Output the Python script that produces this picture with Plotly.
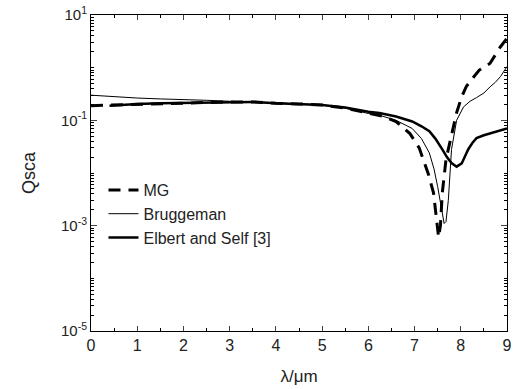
import numpy as np
import plotly.graph_objects as go

# wavelength (um) and read values of Qsca
x_mg = [0.0, 0.5, 1.0, 1.5, 2.0, 2.5, 3.0, 3.5, 4.0, 4.5, 5.0, 5.5, 6.0, 6.3, 6.6, 6.9, 7.1, 7.2, 7.3, 7.41, 7.47, 7.52, 7.56, 7.6, 7.68, 7.8, 7.91, 8.02, 8.12, 8.25, 8.4, 8.63, 8.86, 9.0]
y_mg = [0.19, 0.195, 0.205, 0.21, 0.215, 0.22, 0.224, 0.224, 0.21, 0.205, 0.195, 0.17, 0.135, 0.12, 0.095, 0.056, 0.03, 0.017, 0.0095, 0.0042, 0.0015, 0.0006, 0.0010, 0.0042, 0.018, 0.056, 0.14, 0.28, 0.44, 0.62, 0.9, 1.2, 2.5, 3.6]

x_br = [0.0, 0.5, 1.0, 1.5, 2.0, 2.5, 3.0, 3.5, 4.0, 4.5, 5.0, 5.5, 6.0, 6.24, 6.6, 6.95, 7.15, 7.32, 7.42, 7.5, 7.58, 7.64, 7.68, 7.73, 7.8, 7.91, 8.06, 8.2, 8.34, 8.5, 8.63, 8.75, 8.86, 9.0]
y_br = [0.30, 0.28, 0.265, 0.255, 0.25, 0.24, 0.23, 0.225, 0.215, 0.205, 0.195, 0.17, 0.135, 0.125, 0.1, 0.07, 0.045, 0.024, 0.012, 0.0055, 0.0022, 0.0011, 0.0012, 0.003, 0.028, 0.10, 0.18, 0.23, 0.27, 0.33, 0.43, 0.53, 0.68, 1.05]

x_es = [0.4, 1.0, 1.5, 2.0, 2.5, 3.0, 3.5, 4.0, 4.5, 5.0, 5.5, 6.0, 6.24, 6.6, 6.95, 7.15, 7.32, 7.45, 7.6, 7.7, 7.8, 7.91, 8.02, 8.1, 8.16, 8.25, 8.34, 8.5, 8.63, 8.8, 9.0]
y_es = [0.19, 0.205, 0.21, 0.215, 0.22, 0.224, 0.224, 0.21, 0.205, 0.195, 0.175, 0.145, 0.138, 0.118, 0.095, 0.077, 0.062, 0.045, 0.028, 0.02, 0.0155, 0.0132, 0.0152, 0.021, 0.028, 0.037, 0.046, 0.052, 0.056, 0.062, 0.07]

x_ticks = list(range(0, 10))
y_label_exp = [1, -1, -3, -5]
y_labels = ["10<sup>1</sup>", "10<sup>-1</sup>", "10<sup>-3</sup>", "10<sup>-5</sup>"]
y_unlabelled_exp = [0, -2, -4]

minor_y = [m * 10.0 ** e for e in range(-5, 1) for m in range(2, 10)] + [10.0 ** e for e in y_unlabelled_exp]

font = "Liberation Sans, Arial, sans-serif"

fig = go.Figure()
fig.add_trace(go.Scatter(x=x_mg, y=y_mg, mode="lines", name="MG",
                         line=dict(color="black", width=3, dash="12px,8px")))
fig.add_trace(go.Scatter(x=x_br, y=y_br, mode="lines", name="Bruggeman",
                         line=dict(color="black", width=1)))
fig.add_trace(go.Scatter(x=x_es, y=y_es, mode="lines", name="Elbert and Self [3]",
                         line=dict(color="black", width=2.5)))

fig.update_layout(
    width=518, height=389,
    margin=dict(l=91, r=11, t=15, b=58),
    paper_bgcolor="white", plot_bgcolor="white",
    font=dict(family=font, color="#222", size=14),
    showlegend=True,
    legend=dict(x=0.03, y=0.5, xanchor="left", yanchor="top",
                bgcolor="rgba(0,0,0,0)", font=dict(size=16, family=font),
                tracegroupgap=0),
    xaxis=dict(range=[0, 9], tickvals=x_ticks, ticks="inside", ticklen=5,
               showline=True, linecolor="black", linewidth=1, mirror="ticks",
               showgrid=False, zeroline=False, automargin=False,
               minor=dict(dtick=0.5, ticks="inside", ticklen=3, tickcolor="black"),
               title=dict(text="λ/μm", font=dict(size=17), standoff=16),
               tickfont=dict(size=16)),
    yaxis=dict(type="log", range=[-5, 1],
               tickvals=[10.0 ** e for e in y_label_exp], ticktext=y_labels,
               ticks="inside", ticklen=6,
               showline=True, linecolor="black", linewidth=1, mirror="ticks",
               showgrid=False, zeroline=False, automargin=False,
               minor=dict(tickvals=minor_y, ticks="inside", ticklen=3, tickcolor="black"),
               title=dict(text="Qsca", font=dict(size=18), standoff=20),
               tickfont=dict(size=15)),
)

fig.write_html("out.html")
